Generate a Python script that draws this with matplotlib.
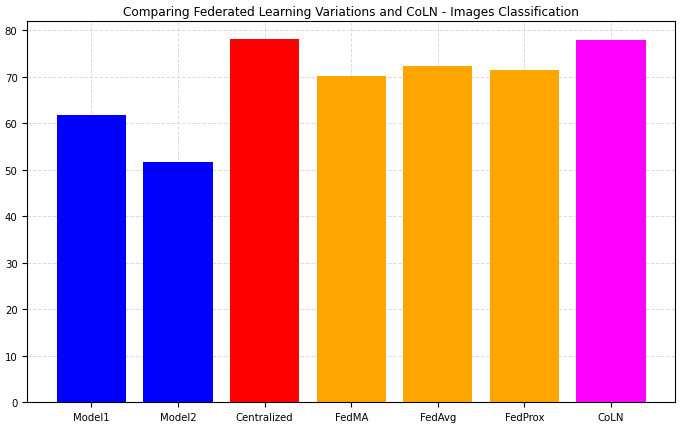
import matplotlib
matplotlib.use("Agg")
import matplotlib.pyplot as plt

# accuracy per method
methods = ["Model1", "Model2", "Centralized", "FedMA", "FedAvg", "FedProx", "CoLN"]
accuracy = [61.8, 51.7, 78.1, 70.1, 72.2, 71.4, 77.9]
colors = ["blue", "blue", "red", "orange", "orange", "orange", "magenta"]

fig = plt.figure(figsize=(6.82, 4.27), dpi=100)
ax = fig.add_axes([0.04, 0.056, 0.95, 0.893])

ax.bar(methods, accuracy, color=colors, width=0.8, zorder=2)
ax.grid(True, linestyle="--", color="lightgray", alpha=0.8, linewidth=0.7, zorder=0)
ax.set_axisbelow(True)
ax.set_title("Comparing Federated Learning Variations and CoLN - Images Classification", fontsize=8.7, pad=4)
ax.tick_params(labelsize=7.3)
ax.set_ylim(0, 82)

fig.savefig("out.png", dpi=100)
